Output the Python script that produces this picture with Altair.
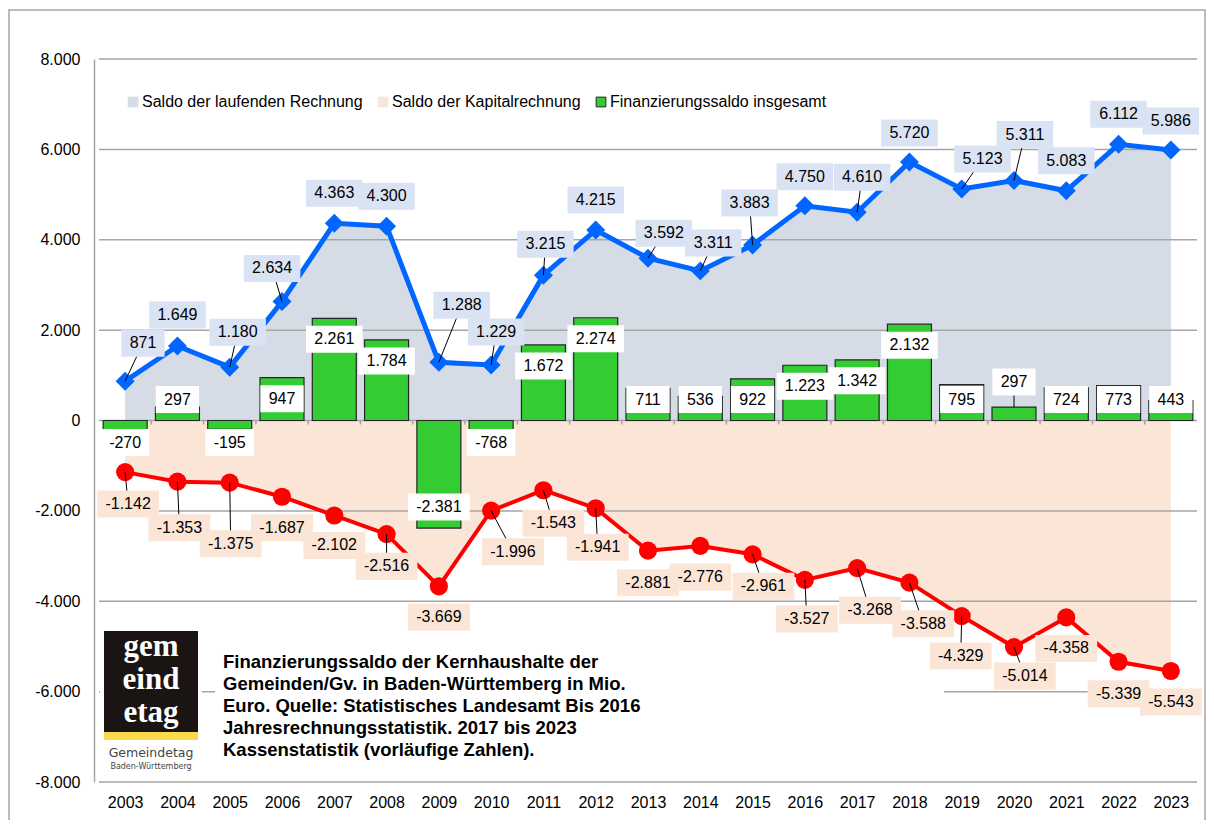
import altair as alt
import pandas as pd

# ---------------- data ----------------
years = list(range(2003, 2024))
laufend = [871, 1649, 1180, 2634, 4363, 4300, 1288, 1229, 3215, 4215, 3592,
           3311, 3883, 4750, 4610, 5720, 5123, 5311, 5083, 6112, 5986]
kapital = [-1142, -1353, -1375, -1687, -2102, -2516, -3669, -1996, -1543, -1941, -2881,
           -2776, -2961, -3527, -3268, -3588, -4329, -5014, -4358, -5339, -5543]
finanz = [-270, 297, -195, 947, 2261, 1784, -2381, -768, 1672, 2274, 711,
          536, 922, 1223, 1342, 2132, 795, 297, 724, 773, 443]
y_ticks = [-8000, -6000, -4000, -2000, 0, 2000, 4000, 6000, 8000]
series_names = ["Saldo der laufenden Rechnung", "Saldo der Kapitalrechnung",
                "Finanzierungssaldo insgesamt"]
anno_lines = ["Finanzierungssaldo der Kernhaushalte der",
              "Gemeinden/Gv. in Baden-Württemberg in Mio.",
              "Euro. Quelle: Statistisches Landesamt Bis 2016",
              "Jahresrechnungsstatistik. 2017 bis 2023",
              "Kassenstatistik (vorläufige Zahlen)."]

# label offsets (pixels, relative to the data point)
blue_dx = [18, 0, 8, -10, 0, 0, 23, 5, 2, 0, 16, 13, -3, 0, 5, 0, 21, 11, 0, 0, 0]
blue_dy = [-38, -31, -35, -33, -30, -30, -57, -33, -31, -30, -25, -28, -42, -29, -35, -29, -30, -46, -30, -30, -29]
blue_leader = [1, 0, 1, 1, 0, 0, 1, 1, 1, 0, 1, 1, 1, 0, 1, 0, 1, 1, 0, 0, 0]
red_dx = [3, 2, 1, 0, 0, 0, 0, 22, 10, 2, 0, 0, 11, 2, 13, 14, -1, 11, 0, 0, 0]
red_dy = [32, 46, 61, 31, 30, 32, 31, 41, 33, 39, 32, 31, 32, 39, 42, 41, 40, 29, 31, 32, 31]
red_leader = [1, 1, 1, 0, 0, 1, 0, 1, 1, 1, 0, 0, 1, 1, 1, 1, 1, 1, 0, 0, 0]
green_moved = {2020: (0, -25)}

# ---------------- geometry / style ----------------
FONT = "Liberation Sans"
W, H = 1108, 723
XMIN, XMAX = 2002.5, 2023.5
YMIN, YMAX = -8000, 8000
PXX = W / (XMAX - XMIN)
PXY = H / (YMAX - YMIN)
GRID = "#a6a6a6"


def fmt(v):
    s = f"{abs(v):,}".replace(",", ".")
    return ("-" if v < 0 else "") + s


def text_w(s, fs=16):
    w = 0
    for c in s:
        w += 0.556 if c.isdigit() else (0.278 if c == "." else 0.333)
    return w * fs


def box_row(yr, v, lx, ly, leader, kind):
    bw = text_w(fmt(v)) + 17
    return dict(year=yr, value=v, lx=lx, ly=ly, txt=fmt(v), leader=leader, kind=kind,
                bx1=lx - bw / 2 / PXX, bx2=lx + bw / 2 / PXX,
                by1=ly - 13.5 / PXY, by2=ly + 13.5 / PXY)


rows = []
for i, yr in enumerate(years):
    v = laufend[i]
    rows.append(box_row(yr, v, yr + blue_dx[i] / PXX, v - blue_dy[i] / PXY, blue_leader[i], "blue"))
    v = kapital[i]
    rows.append(box_row(yr, v, yr + red_dx[i] / PXX, v - red_dy[i] / PXY, red_leader[i], "red"))
    v = finanz[i]
    if yr in green_moved:
        dx, dy = green_moved[yr]
        rows.append(box_row(yr, v, yr + dx / PXX, v - dy / PXY, 1, "green"))
    else:
        if v > 0:
            ly = max(v - 21 / PXY, 21 / PXY)
        else:
            ly = min(v + 21 / PXY, -22 / PXY)
        rows.append(box_row(yr, v, yr, ly, 0, "green"))
lab = pd.DataFrame(rows)

df = pd.DataFrame({"year": years, "laufend": laufend, "kapital": kapital, "finanz": finanz})
one = pd.DataFrame({"a": [0]})

xscale = alt.Scale(domain=[XMIN, XMAX], nice=False, zero=False)
yscale = alt.Scale(domain=[YMIN, YMAX], nice=False, zero=False)
xaxis = alt.Axis(values=years, format="d", labelFontSize=16, labelFont=FONT, labelColor="black",
                 grid=False, ticks=False, tickSize=0, domain=False, labelPadding=12,
                 labelFlush=False, labelOverlap=False, title=None)
yaxis = alt.Axis(values=y_ticks,
                 labelExpr="replace(replace(format(datum.value, ','), ',', '.'), '\u2212', '-')",
                 labelFontSize=16, labelFont=FONT, labelColor="black", grid=False, ticks=False,
                 tickSize=0, domain=True, domainColor=GRID, domainWidth=1.5, labelPadding=14,
                 labelFlush=False, labelOverlap=False, title=None)


def X(f):
    return alt.X(f, type="quantitative", scale=xscale, axis=xaxis, title=None)


def Y(f):
    return alt.Y(f, type="quantitative", scale=yscale, axis=yaxis, title=None)


# ---------------- layers ----------------
area_blue = alt.Chart(df).mark_area(color="#D6DCE5", opacity=1).encode(
    x=X("year"), y=Y("laufend"), y2=alt.datum(0))
area_red = alt.Chart(df).mark_area(color="#FBE5D6", opacity=1).encode(
    x=X("year"), y=Y("kapital"), y2=alt.datum(0))

grid = alt.Chart(pd.DataFrame({"t": y_ticks})).mark_rule(color=GRID, strokeWidth=1.5).encode(
    y=Y("t"), x=alt.datum(XMIN), x2=alt.datum(XMAX))

zero_ticks = alt.Chart(pd.DataFrame({"b": [y + 0.5 for y in years[:-1]]})).mark_rule(
    color=GRID, strokeWidth=1.5).encode(
    x=X("b"), y=alt.datum(0), y2=alt.datum(-4 / PXY))

# white backgrounds for logo and note
white_logo = alt.Chart(one).mark_rect(color="white").encode(
    x=alt.value(6), x2=alt.value(108), y=alt.value(567), y2=alt.value(713))
white_note = alt.Chart(one).mark_rect(color="white").encode(
    x=alt.value(121), x2=alt.value(850), y=alt.value(586), y2=alt.value(711))

bars = alt.Chart(df).mark_bar(color="#33CC33", stroke="#262626", strokeWidth=1.2, size=44).encode(
    x=X("year"), y=Y("finanz"), y2=alt.datum(0))

line_blue = alt.Chart(df).mark_line(color="#0066FF", strokeWidth=5).encode(x=X("year"), y=Y("laufend"))
pts_blue = alt.Chart(df).mark_point(shape="diamond", filled=True, size=360, color="#0066FF",
                                    opacity=1).encode(x=X("year"), y=Y("laufend"))
line_red = alt.Chart(df).mark_line(color="#FF0000", strokeWidth=4).encode(x=X("year"), y=Y("kapital"))
pts_red = alt.Chart(df).mark_circle(size=330, color="#FF0000", opacity=1).encode(
    x=X("year"), y=Y("kapital"))

leaders = alt.Chart(lab[lab.leader == 1]).mark_rule(color="black", strokeWidth=1).encode(
    x=X("year"), y=Y("value"), x2=alt.X2("lx"), y2=alt.Y2("ly"))


def boxes(kind, color):
    return alt.Chart(lab[lab.kind == kind]).mark_rect(color=color).encode(
        x=X("bx1"), x2=alt.X2("bx2"), y=Y("by1"), y2=alt.Y2("by2"))


box_blue = boxes("blue", "#DAE3F3")
box_red = boxes("red", "#FBE5D6")
box_green = boxes("green", "#FFFFFF")

labels = alt.Chart(lab).mark_text(font=FONT, fontSize=16, color="black", align="center",
                                  baseline="middle").encode(x=X("lx"), y=Y("ly"), text="txt:N")

# logo
logo_black = alt.Chart(one).mark_rect(color="#1a1512").encode(
    x=alt.value(10), x2=alt.value(104), y=alt.value(572), y2=alt.value(673))
logo_yellow = alt.Chart(one).mark_rect(color="#FDD94E").encode(
    x=alt.value(10), x2=alt.value(104), y=alt.value(673), y2=alt.value(681))
logo_letters = [
    alt.Chart(one).mark_text(text=t, font="Liberation Serif", fontSize=31, fontWeight="bold",
                             color="white", align="center", baseline="middle").encode(
        x=alt.value(57), y=alt.value(yy))
    for t, yy in [("gem", 588), ("eind", 621), ("etag", 654)]
]
logo_t1 = alt.Chart(one).mark_text(text="Gemeindetag", font="DejaVu Sans", fontSize=12.5,
                                   color="#444444", align="center", baseline="middle").encode(
    x=alt.value(57), y=alt.value(694))
logo_t2 = alt.Chart(one).mark_text(text="Baden-Württemberg", font="DejaVu Sans", fontSize=8,
                                   color="#444444", align="center", baseline="middle").encode(
    x=alt.value(57), y=alt.value(708))

note = alt.Chart(one).mark_text(font=FONT, fontSize=18.5, fontWeight="bold", color="black",
                                align="left", baseline="top", lineHeight=22).encode(
    x=alt.value(129), y=alt.value(594), text=alt.value(anno_lines))

# legend (no marks, just the legend)
leg = dict(title=None, orient="none", legendX=31, legendY=35, direction="horizontal",
           symbolType="square", symbolSize=95, labelFont=FONT, labelFontSize=16,
           labelColor="black", columnPadding=12, labelOffset=1, padding=0,
           symbolStrokeWidth=1, labelLimit=400)
legend_layer = alt.Chart(pd.DataFrame({"series": series_names})).transform_filter(
    "datum.series == 'none'").mark_square(size=90, opacity=1).encode(
    fill=alt.Fill("series:N", scale=alt.Scale(domain=series_names,
                                              range=["#D6DCE5", "#FBE5D6", "#33CC33"]),
                  legend=alt.Legend(**leg)),
    stroke=alt.Stroke("series:N", scale=alt.Scale(domain=series_names,
                                                  range=["#D6DCE5", "#FBE5D6", "#262626"]),
                      legend=alt.Legend(**leg)),
)

frame = alt.Chart(one).mark_rect(fillOpacity=0, stroke="#a6a6a6", strokeWidth=1.5).encode(
    x=alt.value(-85), x2=alt.value(1111), y=alt.value(-49), y2=alt.value(790))

chart = alt.layer(
    area_blue, area_red, grid, zero_ticks, white_logo, white_note, bars,
    line_blue, pts_blue, line_red, pts_red, leaders,
    box_blue, box_red, box_green, labels,
    logo_black, logo_yellow, *logo_letters, logo_t1, logo_t2, note,
    legend_layer, frame,
).properties(
    width=W, height=H,
    autosize=alt.AutoSizeParams(type="none"),
    padding={"left": 86, "top": 51, "right": 4, "bottom": 38},
    background="white",
).configure_view(stroke=None)

chart.save("out.html", embed_options={"renderer": "svg", "actions": False})
